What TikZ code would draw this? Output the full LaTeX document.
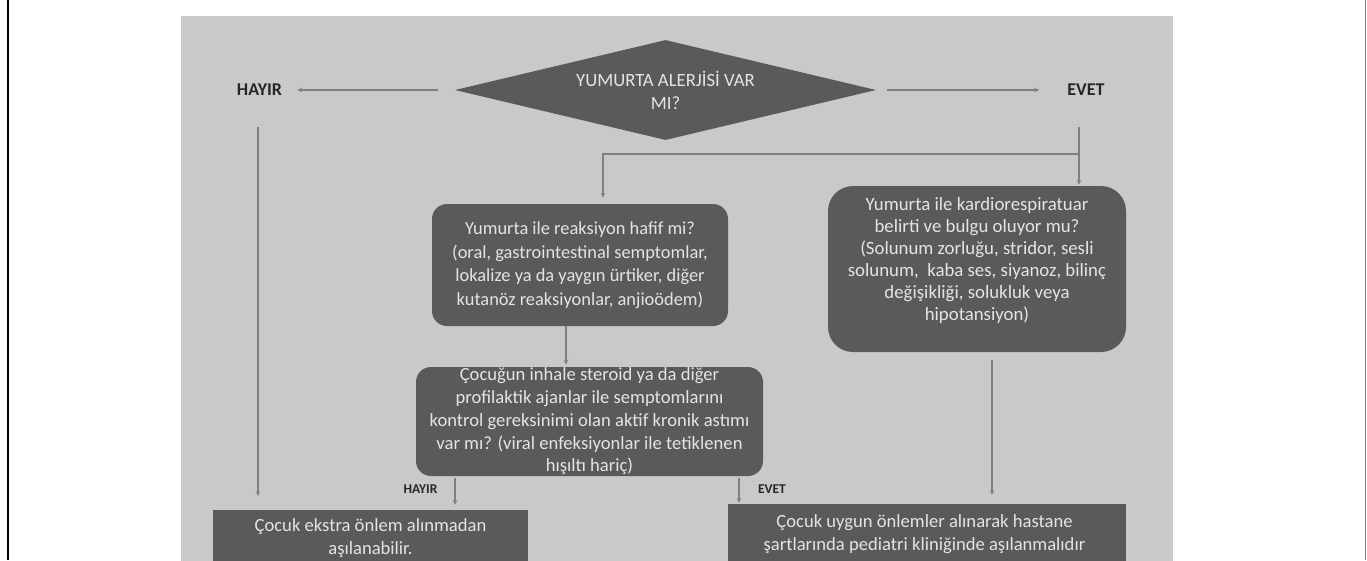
\documentclass[tikz,border=0pt]{standalone}
\usepackage{fontspec}
\setmainfont{Carlito}
\usetikzlibrary{shapes.geometric,arrows.meta}
\definecolor{panel}{RGB}{201,201,201}
\definecolor{boxc}{RGB}{90,90,90}
\definecolor{boxtext}{RGB}{228,228,228}
\definecolor{linec}{RGB}{128,128,128}
\definecolor{labc}{RGB}{38,38,38}
\begin{document}
\begin{tikzpicture}[x=1pt,y=-1pt,
  box/.style={fill=boxc, text=boxtext, align=center, inner sep=0pt},
  btxt/.style={text=boxtext, align=center, inner sep=0pt},
  lab/.style={text=labc, font=\bfseries\fontsize{18}{20}\selectfont, inner sep=0pt},
  slab/.style={text=labc, font=\bfseries\fontsize{13.5}{15}\selectfont, inner sep=0pt},
  conn/.style={draw=linec, line width=1.1pt, -{Stealth[length=5pt,width=4.5pt]}}]
\useasboundingbox (0,0) rectangle (1367,560);
\clip (0,0) rectangle (1367,560);
\fill[white] (0,0) rectangle (1367,560);
\draw[black, line width=1.8pt] (8,0) -- (8,560);
\draw[gray, line width=1pt] (1365.5,0) -- (1365.5,560);
\fill[panel] (181,16) rectangle (1173,600);

% decision
\node[diamond, fill=boxc, text=boxtext, minimum width=421pt, minimum height=100pt,
      inner sep=0pt, aspect=4.2, align=center, font=\fontsize{18.7}{23}\selectfont] (q) at (665.5,90)
      {YUMURTA ALERJİSİ VAR\\MI?};
\node[lab] (hayir) at (259.5,90) {HAYIR};
\node[lab] (evet) at (1086,90) {EVET};
\draw[conn, shorten <=17pt, shorten >=15pt] (q.west) -- (hayir.east);
\draw[conn, shorten <=11pt, shorten >=28pt] (q.east) -- (evet.west);

% boxes
\node[box, font=\fontsize{18.4}{23.5}\selectfont, rounded corners=15pt, minimum width=296pt, minimum height=122pt] (mild) at (580,265)
  {Yumurta ile reaksiyon hafif mi?\\(oral, gastrointestinal semptomlar,\\lokalize ya da yaygın ürtiker, diğer\\kutanöz reaksiyonlar, anjioödem)};
\node[box, rounded corners=25pt, minimum width=298pt, minimum height=166pt] (cardio) at (977,269) {};
\node[btxt, font=\fontsize{18.8}{22}\selectfont] (cardiotxt) at (977,260)
  {Yumurta ile kardiorespiratuar\\belirti ve bulgu oluyor mu?\\(Solunum zorluğu, stridor, sesli\\solunum,\ \ kaba ses, siyanoz, bilinç\\değişikliği, solukluk veya\\hipotansiyon)};
\node[box, font=\fontsize{18.6}{22.75}\selectfont, rounded corners=15pt, minimum width=347pt, minimum height=109pt] (asthma) at (589.5,421.5)
  {Çocuğun inhale steroid ya da diğer\\profilaktik ajanlar ile semptomlarını\\kontrol gereksinimi olan aktif kronik astımı\\var mı? (viral enfeksiyonlar ile tetiklenen\\hışıltı hariç)};
\node[box, minimum width=315pt, minimum height=100pt, anchor=north] (bl) at (370.5,510) {};
\node[btxt, font=\fontsize{18.6}{22.5}\selectfont] (bltxt) at (370.5,538) {Çocuk ekstra önlem alınmadan\\aşılanabilir.};
\node[box, minimum width=398pt, minimum height=100pt, anchor=north] (br) at (927,504) {};
\node[btxt, font=\fontsize{18.6}{23}\selectfont] (brtxt) at (924.5,534.5) {Çocuk uygun önlemler alınarak hastane\\şartlarında pediatri kliniğinde aşılanmalıdır};

% small labels
\node[slab] (hayir2) at (420.5,489) {HAYIR};
\node[slab] (evet2) at (772,489) {EVET};

% connectors
\coordinate (hd) at (258,127);
\draw[conn, shorten >=14pt] (hd) -- (hd |- bl.north);
\coordinate (ed) at (1079,127);
\draw[conn, shorten >=1pt] (ed) -- (ed |- cardio.north);
\coordinate (br1) at (1079,154);
\coordinate (br2) at (603,154);
\draw[conn, shorten >=6pt] (br1) -- (br2) -- (br2 |- mild.north);
\coordinate (m1) at (566,0);
\draw[conn, shorten >=2pt] (m1 |- mild.south) -- (m1 |- asthma.north);
\coordinate (a1) at (455,478);
\draw[conn, shorten >=5pt] (a1) -- (a1 |- bl.north);
\coordinate (a2) at (739,478);
\draw[conn, shorten >=1pt] (a2) -- (a2 |- br.north);
\coordinate (c1) at (992,360);
\draw[conn, shorten >=9pt] (c1) -- (c1 |- br.north);
\end{tikzpicture}
\end{document}
